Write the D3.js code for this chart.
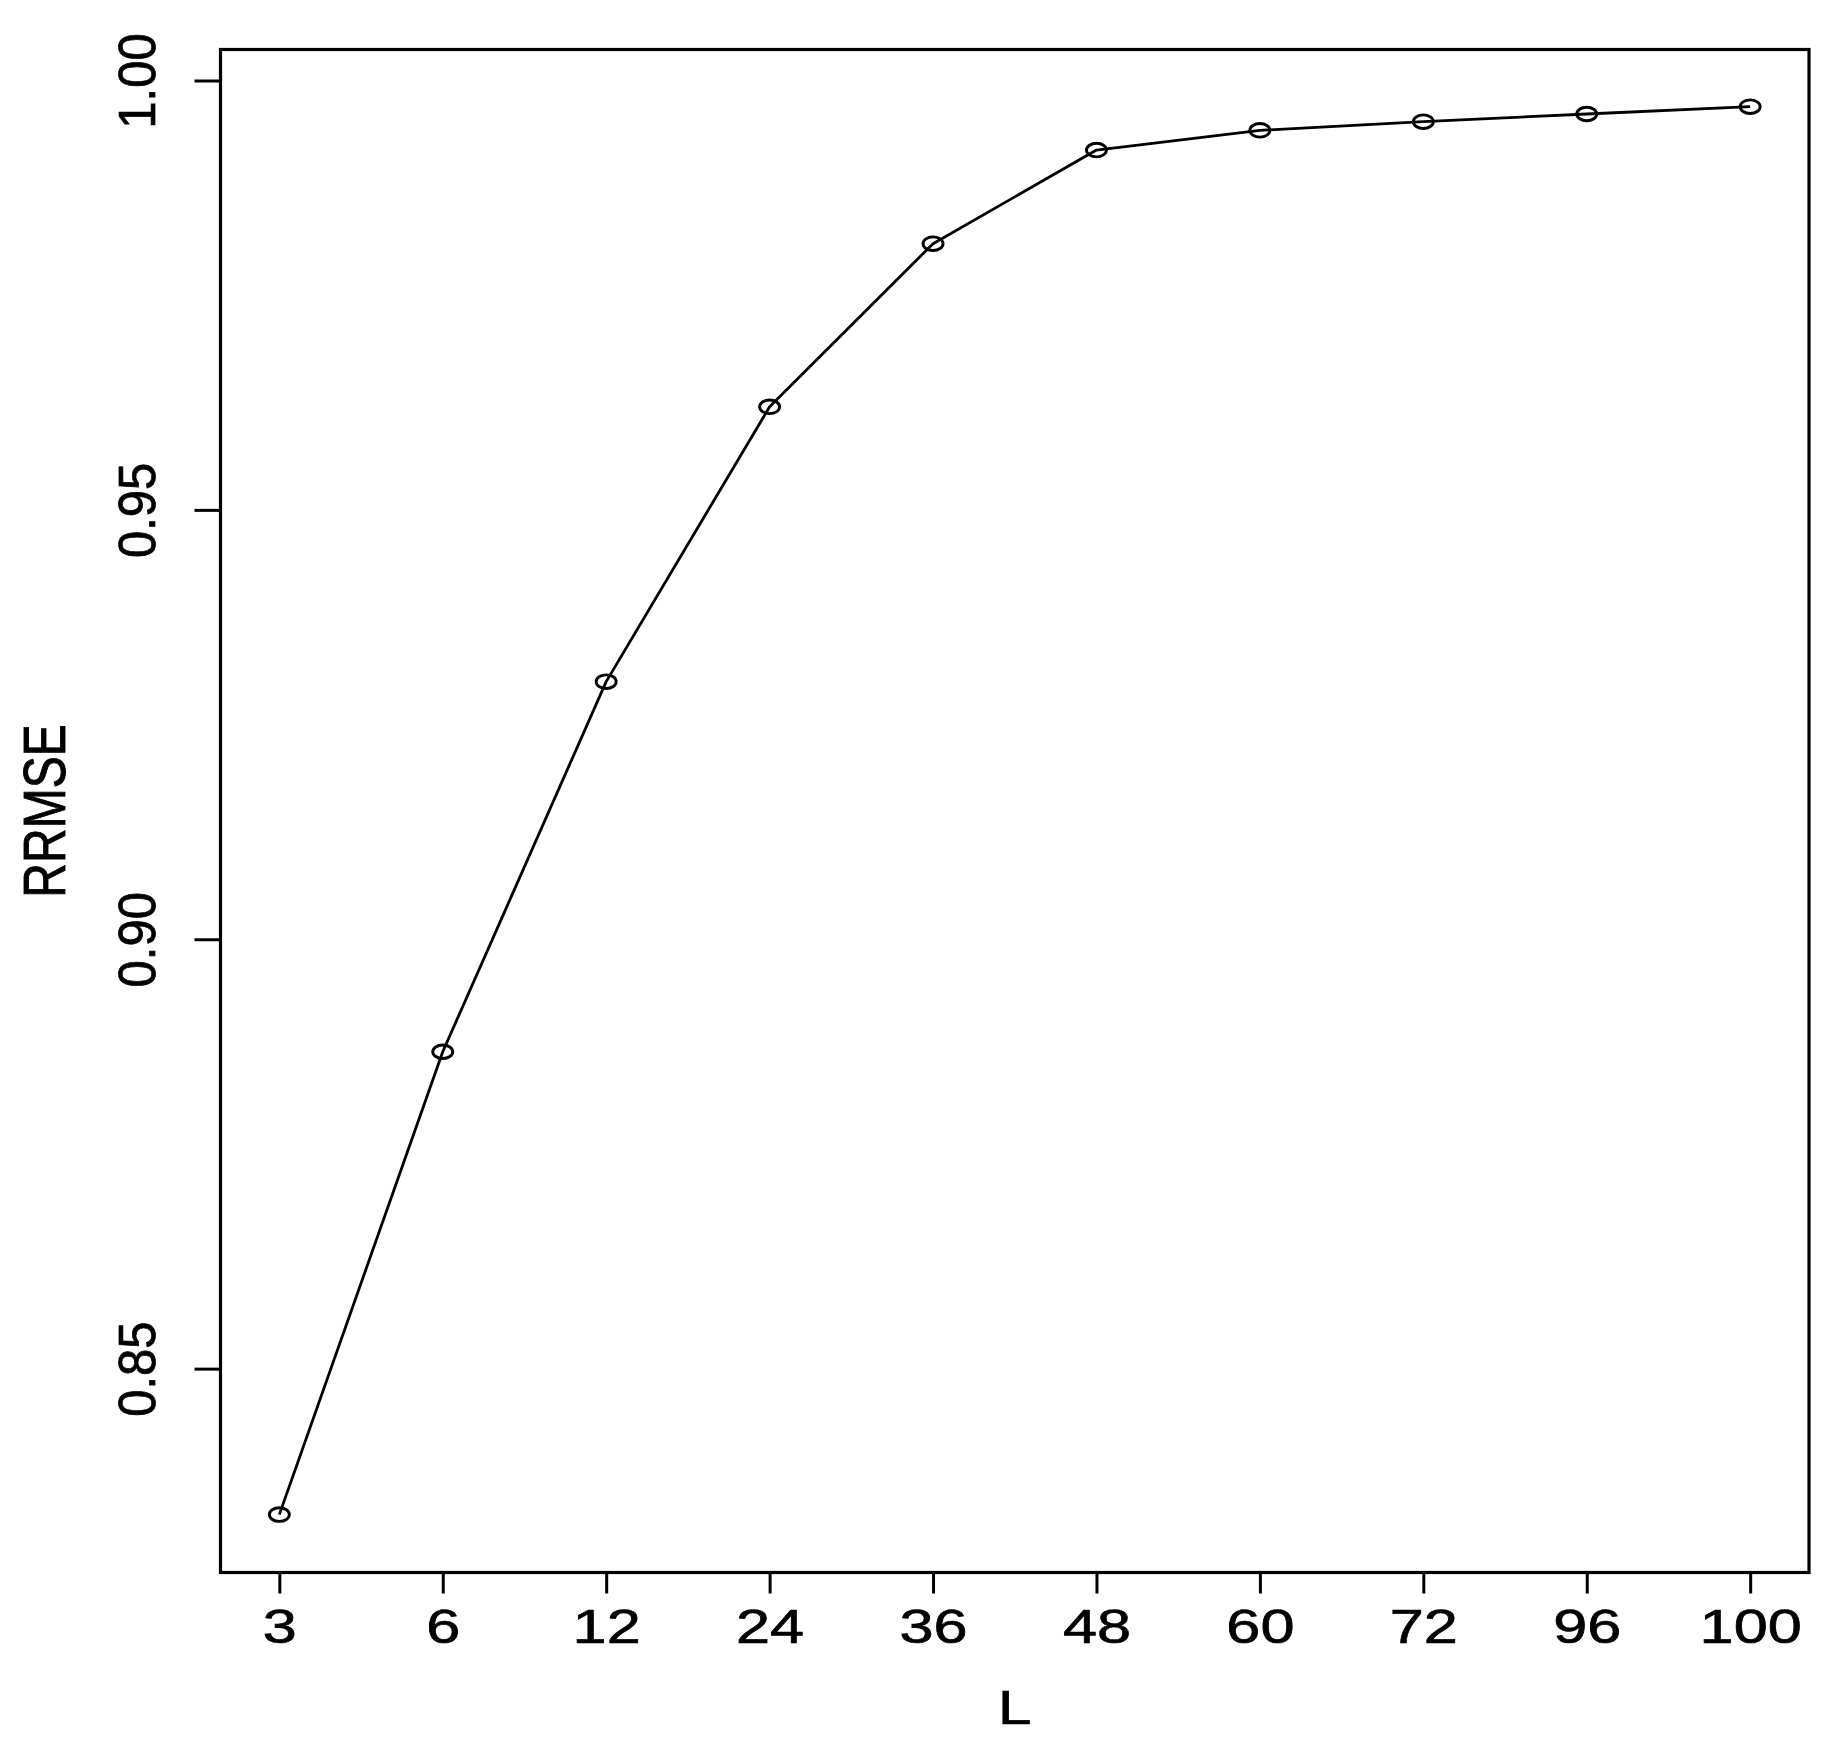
<!DOCTYPE html>
<html>
<head>
<meta charset="utf-8">
<script src="https://cdn.jsdelivr.net/npm/d3@7"></script>
<style>
  html, body { margin: 0; padding: 0; background: #fff; }
  svg { display: block; }
  text { font-family: "Liberation Sans", Arial, Helvetica, sans-serif; fill: #000; }
</style>
</head>
<body>
<svg id="chart" width="1839" height="1750"></svg>
<script>
// ---- data ----
const categories = ["3", "6", "12", "24", "36", "48", "60", "72", "96", "100"];
const rrmse = [0.8330, 0.8869, 0.9300, 0.9620, 0.9810, 0.9919, 0.9942, 0.9952, 0.9961, 0.99695];
const yTicks = [0.85, 0.90, 0.95, 1.00];
const xLabel = "L";
const yLabel = "RRMSE";

(function () {
// ---- layout ----
const W = 1839, H = 1750;
const pL = 220.5, pR = 1809, pT = 49.5, pB = 1572.5;

const svg = d3.select("#chart");
svg.append("rect").attr("width", W).attr("height", H).attr("fill", "#fff");

const x = d3.scaleLinear()
  .domain([-0.36, categories.length - 1 + 0.36])
  .range([pL, pR]);
const y = d3.scaleLinear()
  .domain([0.82626, 1.00361])
  .range([pB, pT]);

// x axis
const xAxis = d3.axisBottom(x)
  .tickValues(d3.range(categories.length))
  .tickFormat(i => categories[i])
  .tickSize(21)
  .tickSizeOuter(0);
const gx = svg.append("g").attr("transform", `translate(0,${pB})`).call(xAxis);
gx.select(".domain").remove();
gx.selectAll(".tick line").attr("stroke", "#000").attr("stroke-width", 3);
gx.selectAll(".tick text")
  .attr("x", 0).attr("y", 0).attr("dy", null)
  .attr("text-anchor", "middle")
  .attr("font-size", 49)
  .attr("font-family", "Liberation Sans, Arial, sans-serif")
  .attr("fill", "#000")
  .attr("stroke", "#000").attr("stroke-width", 0.7)
  .attr("transform", "translate(0,70.5) scale(1.25,1)");

// y axis
const yAxis = d3.axisLeft(y)
  .tickValues(yTicks)
  .tickFormat(d3.format(".2f"))
  .tickSize(26)
  .tickSizeOuter(0);
const gy = svg.append("g").attr("transform", `translate(${pL},0)`).call(yAxis);
gy.select(".domain").remove();
gy.selectAll(".tick line").attr("stroke", "#000").attr("stroke-width", 3);
gy.selectAll(".tick text")
  .attr("x", 0).attr("y", 0).attr("dy", null)
  .attr("text-anchor", "middle")
  .attr("font-size", 49)
  .attr("font-family", "Liberation Sans, Arial, sans-serif")
  .attr("fill", "#000")
  .attr("stroke", "#000").attr("stroke-width", 0.7)
  .attr("transform", `translate(${155 - pL},0) scale(1.07,1) rotate(-90)`);

// box
svg.append("rect")
  .attr("x", pL).attr("y", pT)
  .attr("width", pR - pL).attr("height", pB - pT)
  .attr("fill", "none").attr("stroke", "#000").attr("stroke-width", 3.2);

// line
const line = d3.line()
  .x((d, i) => x(i))
  .y(d => y(d));
svg.append("path")
  .datum(rrmse)
  .attr("d", line)
  .attr("fill", "none")
  .attr("stroke", "#000")
  .attr("stroke-width", 2.8)
  .attr("stroke-linejoin", "round");

// points (open circles, slightly elliptical as in the reference)
svg.selectAll("ellipse.pt")
  .data(rrmse)
  .enter().append("ellipse")
  .attr("class", "pt")
  .attr("cx", (d, i) => x(i))
  .attr("cy", d => y(d))
  .attr("rx", 10)
  .attr("ry", 6.8)
  .attr("fill", "none")
  .attr("stroke", "#000")
  .attr("stroke-width", 2.9);

// axis titles
svg.append("text")
  .attr("x", 0).attr("y", 0)
  .attr("text-anchor", "middle")
  .attr("font-size", 48)
  .attr("stroke", "#000").attr("stroke-width", 0.7)
  .attr("transform", `translate(${(pL + pR) / 2},1724) scale(1.25,1)`)
  .text(xLabel);

svg.append("text")
  .attr("x", 0).attr("y", 0)
  .attr("text-anchor", "middle")
  .attr("font-size", 48)
  .attr("stroke", "#000").attr("stroke-width", 0.7)
  .attr("transform", `translate(65,${(pT + pB) / 2}) scale(1.25,1) rotate(-90)`)
  .text(yLabel);
})();
</script>
</body>
</html>
